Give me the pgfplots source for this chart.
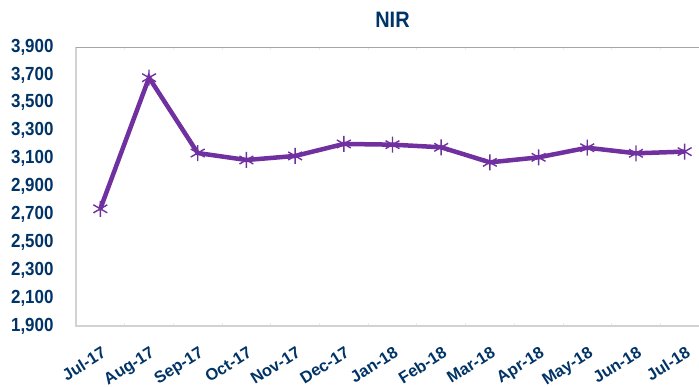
\documentclass[border=0pt]{standalone}
\usepackage{pgfplots}
\pgfplotsset{compat=1.18}
\usepackage{fontspec}
\setmainfont{Liberation Sans}
\definecolor{navy}{RGB}{0,51,102}
\definecolor{purp}{RGB}{112,48,160}
\begin{document}
\begin{tikzpicture}
\begin{axis}[
  scale only axis,
  width=633bp, height=279bp,
  xmin=-0.5, xmax=12.5,
  ymin=1900, ymax=3900,
  ytick={1900,2100,...,3900},
  xtick={0,...,12},
  xticklabels={Jul-17,Aug-17,Sep-17,Oct-17,Nov-17,Dec-17,Jan-18,Feb-18,Mar-18,Apr-18,May-18,Jun-18,Jul-18},
  minor xtick={-0.5,0.5,...,12.5},
  major tick length=0pt,
  minor tick length=3bp,
  minor x tick style={draw=gray!15, line width=0.8pt},
  axis line style={draw=none},
  /pgf/number format/assume math mode=true,
  /pgf/number format/1000 sep={,},
  yticklabel={\scalebox{1}[1.12]{\pgfmathprintnumber{\tick}}},
  yticklabel style={font=\fontsize{17}{18}\selectfont\bfseries, text=navy, anchor=east, xshift=-19bp},
  xticklabel style={font=\fontsize{16.5}{18}\selectfont\bfseries, text=navy, rotate=32, anchor=north east, inner sep=0pt, xshift=-10bp, yshift=-17bp},
  title={\scalebox{1}[1.12]{NIR}},
  title style={font=\fontsize{20}{22}\selectfont\bfseries, text=navy, yshift=10bp},
  clip=false,
]
\draw[gray!35, line width=1.2pt] (rel axis cs:0,1) -- (rel axis cs:0,0) -- (rel axis cs:1,0);
\draw[gray!70, line width=1pt] (rel axis cs:0,1) -- (rel axis cs:1,1);
\addplot[purp, line width=4.5bp, mark=asterisk, mark size=8bp, mark options={line width=1.4bp, solid}]
coordinates {(0,2740) (1,3680) (2,3140) (3,3090) (4,3119) (5,3205) (6,3200) (7,3181) (8,3073) (9,3109) (10,3178) (11,3138) (12,3150)};
\end{axis}
\pgfresetboundingbox
\useasboundingbox (current axis.south west) ++(-76bp,-61bp) rectangle ++(699bp,387bp);
\end{tikzpicture}
\end{document}
